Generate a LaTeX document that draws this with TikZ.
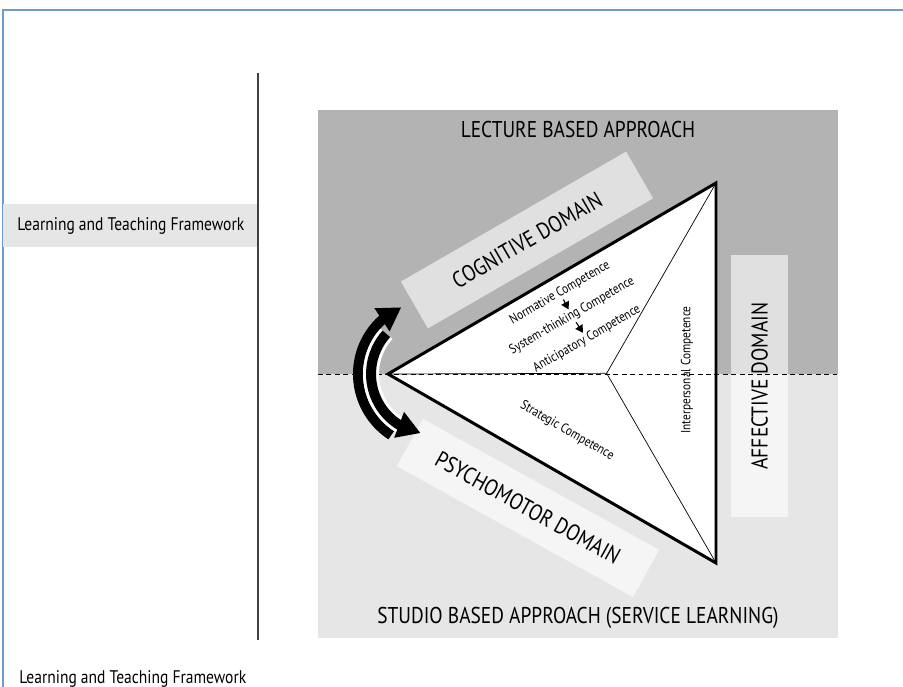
\documentclass[tikz,border=0pt]{standalone}
\usepackage{fontspec}
\setmainfont{PT Sans}[FakeStretch=0.85]
\usetikzlibrary{arrows.meta,bending}
\definecolor{darkband}{HTML}{B3B3B3}
\definecolor{lightband}{HTML}{E6E6E6}
\definecolor{frameblue}{HTML}{6C9BD2}
\tikzset{
  domainbox/.style={fill=white, fill opacity=0.6, text opacity=1, inner sep=0pt, font=\fontsize{13}{15}\selectfont},
  approach/.style={inner sep=0pt, font=\fontsize{13}{15}\selectfont},
  framelabel/.style={anchor=west, inner sep=0pt, font=\fontsize{10.4}{12}\selectfont},
  competence/.style={inner sep=0.5pt, font=\fontsize{7.6}{9}\selectfont},
  swoop/.style={line width=0.2cm, -{Triangle[length=0.46cm,width=0.52cm]}},
  stepper/.style={line width=0.6pt, -{Triangle[length=0.15cm,width=0.17cm]}}
}
\begin{document}
\begin{tikzpicture}
  \useasboundingbox (0,0) rectangle (18.06,13.74);
  % 边框
  \draw[frameblue, line width=1pt] (0.06,0) -- (0.06,13.54) -- (18.06,13.54);
  % 分隔线
  \draw[black!75, line width=0.8pt] (5.16,12.28) -- (5.16,0.94);
  % 左侧标签
  \fill[lightband] (0.06,8.8) rectangle (5.14,9.66);
  \node[framelabel] (frametag) at (0.34,9.23) {Learning and Teaching Framework};
  \node[framelabel] (caption) at (0.38,0.16) {Learning and Teaching Framework};
  % 两个区域
  \fill[darkband] (6.36,6.26) rectangle (16.76,11.54);
  \fill[lightband] (6.36,0.98) rectangle (16.76,6.26);
  \node[approach] (lecture) at (11.56,11.14) {LECTURE BASED APPROACH};
  \node[approach] (studio) at (11.56,1.38) {STUDIO BASED APPROACH (SERVICE LEARNING)};
  % 三个领域
  \node[domainbox, rotate=30, minimum width=5.2cm, minimum height=1.08cm] (cognitive) at (10.54,8.94) {COGNITIVE DOMAIN};
  \node[domainbox, rotate=-29, minimum width=5.4cm, minimum height=1.08cm] (psychomotor) at (10.56,3.58) {PSYCHOMOTOR DOMAIN};
  \node[domainbox, rotate=90, minimum width=5.24cm, minimum height=1.14cm] (affective) at (15.19,6.02) {AFFECTIVE DOMAIN};
  % 三角形
  \coordinate (apex) at (7.76,6.26);
  \coordinate (top) at (14.32,10.08);
  \coordinate (base) at (14.32,2.48);
  \coordinate (hub) at (barycentric cs:apex=1,top=1,base=1);
  \fill[white] (apex) -- (top) -- (base) -- cycle;
  \draw[line width=0.4pt] (apex) -- (hub) -- (top) (hub) -- (base);
  \draw[line width=1.7pt, miter limit=20] (apex) -- (top) -- (base) -- cycle;
  \draw[line width=0.5pt, dash pattern=on 2.8pt off 2pt] (6.36,6.26) -- (16.76,6.26);
  % 能力
  \node[competence, rotate=30] (normative) at (11.2,7.88) {Normative Competence};
  \node[competence, rotate=30] (systems) at (11.44,7.42) {System-thinking Competence};
  \node[competence, rotate=30] (anticipatory) at (11.74,6.96) {Anticipatory Competence};
  \node[competence, rotate=90] (interpersonal) at (13.74,6.34) {Interpersonal Competence};
  \node[competence, rotate=-30] (strategic) at (11.34,5.12) {Strategic Competence};
  \draw[stepper] (normative) -- (systems);
  \draw[stepper] (systems) -- (anticipatory);
  % 弧形箭头
  \coordinate (pivot) at (8.62,6.26);
  \draw[swoop] ([shift={(237:1.46)}]pivot) arc[start angle=237, end angle=114, radius=1.46];
  \draw[white, line width=0.32cm] ([shift={(138:1.2)}]pivot) arc[start angle=138, end angle=240, radius=1.2];
  \draw[swoop] ([shift={(138:1.2)}]pivot) arc[start angle=138, end angle=260, radius=1.2];
\end{tikzpicture}
\end{document}
